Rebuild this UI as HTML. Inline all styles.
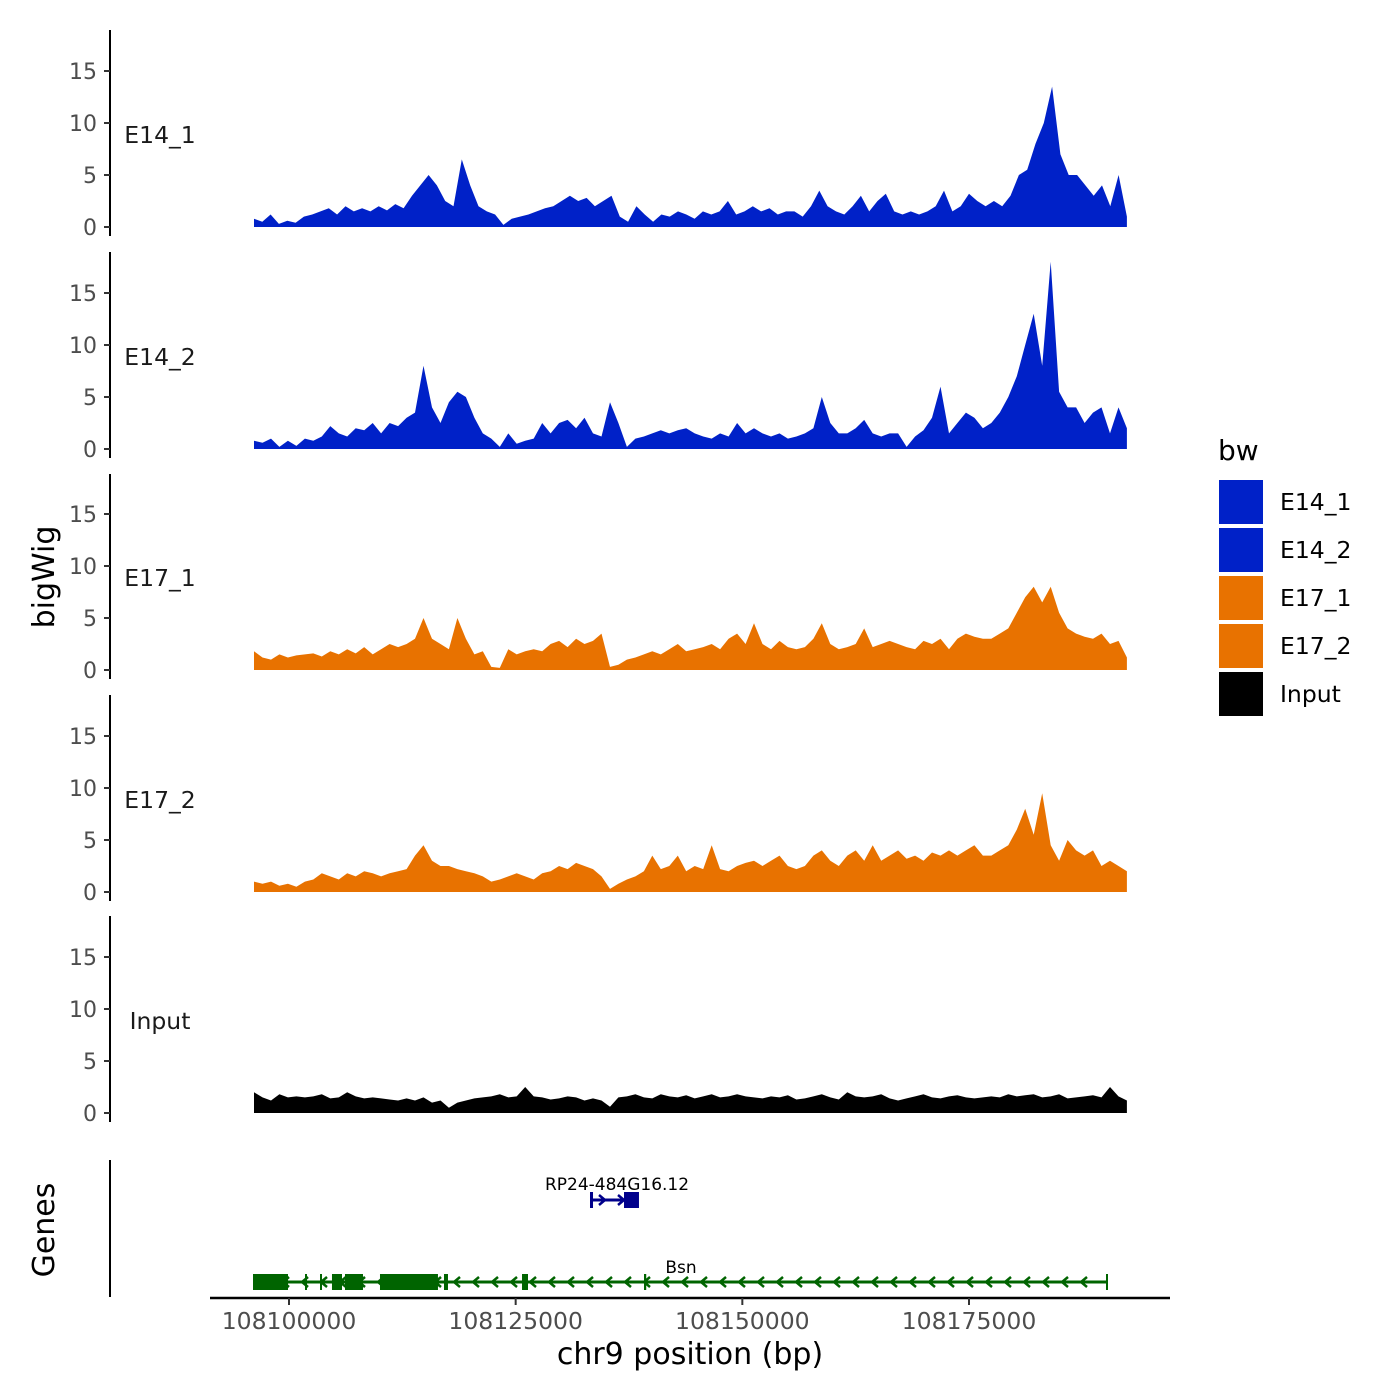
<!DOCTYPE html>
<html><head><meta charset="utf-8"><style>
body{margin:0;background:#fff}
svg{display:block;font-family:"DejaVu Sans","Liberation Sans",sans-serif}
</style></head><body>
<svg id="chart" width="1400" height="1400" viewBox="0 0 1400 1400"></svg>
<script>
const trackNames=["E14_1","E14_2","E17_1","E17_2","Input"];
const trackColors=["#0021C8","#0021C8","#E87200","#E87200","#000000"];
const yTicks=[0,5,10,15];
const xTicks=[108100000,108125000,108150000,108175000];
const e14_1=[0.8,0.5,1.2,0.3,0.6,0.4,1,1.2,1.5,1.8,1.2,2,1.5,1.8,1.5,2,1.6,2.2,1.8,3,4,5,4,2.5,2,6.5,4,2,1.5,1.2,0.2,0.8,1,1.2,1.5,1.8,2,2.5,3,2.5,2.8,2,2.5,3,1,0.5,2,1.2,0.5,1.2,1,1.5,1.2,0.8,1.5,1.2,1.5,2.5,1.2,1.5,2,1.5,1.8,1.2,1.5,1.5,1,2,3.5,2,1.5,1.2,2,3,1.5,2.5,3.2,1.5,1.2,1.5,1.2,1.5,2,3.5,1.5,2,3.2,2.5,2,2.5,2,3,5,5.5,8,10,13.5,7,5,5,4,3,4,2,5,1];
const e14_2=[0.8,0.6,1,0.2,0.8,0.3,1,0.8,1.2,2.2,1.5,1.2,2,1.8,2.5,1.5,2.5,2.2,3,3.5,8,4,2.5,4.5,5.5,5,3,1.5,1,0.2,1.5,0.5,0.8,1,2.5,1.5,2.5,2.8,2,3,1.5,1.2,4.5,2.5,0.2,1,1.2,1.5,1.8,1.5,1.8,2,1.5,1.2,1,1.5,1.2,2.5,1.5,2,1.5,1.2,1.5,1,1.2,1.5,2,5,2.5,1.5,1.5,2,2.8,1.5,1.2,1.5,1.5,0.2,1.2,1.8,3,6,1.5,2.5,3.5,3,2,2.5,3.5,5,7,10,13,8,18,5.5,4,4,2.5,3.5,4,1.5,4,2];
const e17_1=[1.8,1.2,1,1.5,1.2,1.4,1.5,1.6,1.3,1.8,1.5,2,1.6,2.2,1.5,2,2.5,2.2,2.5,3,5,3,2.5,2,5,3,1.5,1.8,0.3,0.2,2,1.5,1.8,2,1.8,2.5,2.8,2.2,3,2.5,2.8,3.5,0.3,0.5,1,1.2,1.5,1.8,1.5,2,2.5,1.8,2,2.2,2.5,2,3,3.5,2.5,4.5,2.5,2,2.8,2.2,2,2.2,3,4.5,2.5,2,2.2,2.5,4,2.2,2.5,2.8,2.5,2.2,2,2.8,2.5,3,2,3,3.5,3.2,3,3,3.5,4,5.5,7,8,6.5,8,5.5,4,3.5,3.2,3,3.5,2.5,2.8,1.2];
const e17_2=[1,0.8,1,0.6,0.8,0.5,1,1.2,1.8,1.5,1.2,1.8,1.5,2,1.8,1.5,1.8,2,2.2,3.5,4.5,3,2.5,2.5,2.2,2,1.8,1.5,1,1.2,1.5,1.8,1.5,1.2,1.8,2,2.5,2.2,2.8,2.5,2.2,1.5,0.3,0.8,1.2,1.5,2,3.5,2.2,2.5,3.5,2,2.5,2.2,4.5,2.2,2,2.5,2.8,3,2.5,3,3.5,2.5,2.2,2.5,3.5,4,3,2.5,3.5,4,3,4.5,3,3.5,4,3.2,3.5,3,3.8,3.5,4,3.5,4,4.5,3.5,3.5,4,4.5,6,8,5.5,9.5,4.5,3,5,4,3.5,4,2.5,3,2.5,2];
const input=[2,1.5,1.2,1.8,1.5,1.6,1.5,1.6,1.8,1.4,1.5,2,1.6,1.4,1.5,1.4,1.3,1.2,1.4,1.2,1.5,1,1.2,0.5,1,1.2,1.4,1.5,1.6,1.8,1.5,1.6,2.5,1.6,1.5,1.3,1.4,1.6,1.5,1.2,1.4,1.2,0.6,1.5,1.6,1.8,1.5,1.4,1.8,1.6,1.5,1.7,1.4,1.6,1.8,1.5,1.6,1.8,1.6,1.5,1.4,1.6,1.5,1.7,1.3,1.4,1.6,1.8,1.5,1.3,2,1.6,1.5,1.6,1.8,1.4,1.2,1.4,1.6,1.8,1.5,1.4,1.6,1.7,1.5,1.4,1.5,1.6,1.5,1.8,1.6,1.7,1.8,1.5,1.6,1.8,1.4,1.5,1.6,1.7,1.5,2.5,1.6,1.2];
const trackData=[e14_1,e14_2,e17_1,e17_2,input];
const dataStart=108096140, dataEnd=108192420;
const bsnExons=[[108096140,108099890],[108101765,108101900],[108103420,108103600],[108104740,108105845],[108106175,108108160],[108110035,108116430],[108117095,108117535],[108125700,108126360],[108139155,108139400]];
const bsnSpan=[108096140,108190220];
const rpExons=[[108133310,108133450],[108136950,108138490]];
const rpSpan=[108133310,108138490];

const NS="http://www.w3.org/2000/svg";
const svg=document.getElementById('chart');
function el(t,a,p){const e=document.createElementNS(NS,t);for(const k in a)e.setAttribute(k,a[k]);(p||svg).appendChild(e);return e;}
const xs=bp=>289+(bp-108100000)*0.00906667;
const panelBase=[227,449,670,892,1113];
const ys=(v,i)=>panelBase[i]-v*10.4;
const axTop=[30,252,474,695,916];

trackNames.forEach((name,i)=>{
  const g=el('g',{});
  
  
  const ax=el('line',{x1:110,x2:110,y1:axTop[i],y2:panelBase[i]+9,stroke:'#000','stroke-width':2},g);
  
  
  yTicks.forEach(t=>{
    const y=ys(t,i);
    el('line',{x1:104,x2:110,y1:y,y2:y,stroke:'#333','stroke-width':2},g);
    const tx=el('text',{x:97,y:y+8,'text-anchor':'end','font-size':22,fill:'#4d4d4d'},g);
    tx.textContent=t;
    
    
  });
  const lb=el('text',{x:160,y:panelBase[i]-84,'text-anchor':'middle','font-size':23.5,fill:'#1a1a1a'},g);
  lb.textContent=name;
  
  
  const d=trackData[i], n=d.length;
  let pts=[[xs(dataStart),panelBase[i]]];
  d.forEach((v,j)=>{const bp=dataStart+(dataEnd-dataStart)*j/(n-1);pts.push([xs(bp),ys(v,i)]);});
  pts.push([xs(dataEnd),panelBase[i]]);
  const area=el('polygon',{points:pts.map(p=>p[0].toFixed(1)+','+p[1].toFixed(1)).join(' '),fill:trackColors[i]},g);
  
  
});

const yt=el('text',{x:0,y:0,transform:'translate(54,577) rotate(-90)','text-anchor':'middle','font-size':30,fill:'#000'});
yt.textContent='bigWig';



const gg=el('g',{});


el('line',{x1:110,x2:110,y1:1160,y2:1297,stroke:'#000','stroke-width':2},gg);
const gt=el('text',{x:0,y:0,transform:'translate(54,1230) rotate(-90)','text-anchor':'middle','font-size':30,fill:'#000'},gg);
gt.textContent='Genes';



function drawGene(span,exons,y,color,dir,name,lx,ly){
  const g=el('g',{},gg);
  
  
  el('line',{x1:xs(span[0]),x2:xs(span[1]),y1:y,y2:y,stroke:color,'stroke-width':3},g);
  const x0=xs(span[0]),x1=xs(span[1]);
  for(let x=x0+12;x<x1-6;x+=19){
    const p=dir<0?`M${x+4},${y-5} L${x-2},${y} L${x+4},${y+5}`:`M${x-4},${y-5} L${x+2},${y} L${x-4},${y+5}`;
    el('path',{d:p,stroke:color,'stroke-width':2.5,fill:'none'},g);
  }
  el('line',{x1:x0,x2:x0,y1:y-8,y2:y+8,stroke:color,'stroke-width':2},g);
  el('line',{x1:x1,x2:x1,y1:y-8,y2:y+8,stroke:color,'stroke-width':2},g);
  exons.forEach(e=>{
    const w=Math.max(2,xs(e[1])-xs(e[0]));
    const r=el('rect',{x:xs(e[0]),y:y-8,width:w,height:16,fill:color},g);
    
    
  });
  const t=el('text',{x:lx,y:ly,'text-anchor':'middle','font-size':17,fill:'#000'},g);
  t.textContent=name;
  
  
}
drawGene(bsnSpan,bsnExons,1282,'#006400',-1,'Bsn',681,1273);
drawGene(rpSpan,rpExons,1200,'#00008B',1,'RP24-484G16.12',617,1190);

const xa=el('line',{x1:210,x2:1170,y1:1298,y2:1298,stroke:'#000','stroke-width':2.5});


xTicks.forEach(t=>{
  el('line',{x1:xs(t),x2:xs(t),y1:1298,y2:1305,stroke:'#333','stroke-width':2});
  const tx=el('text',{x:xs(t),y:1329,'text-anchor':'middle','font-size':23.5,fill:'#4d4d4d'});
  tx.textContent=t;
  
  
});
const xt=el('text',{x:690,y:1364,'text-anchor':'middle','font-size':30,fill:'#000'});
xt.textContent='chr9 position (bp)';



const lg=el('g',{});


const lt=el('text',{x:1218,y:460,'font-size':28,fill:'#000'},lg);
lt.textContent='bw';


trackNames.forEach((n,i)=>{
  const y=480+i*48;
  const e=el('g',{},lg);
  
  
  el('rect',{x:1219,y:y,width:44,height:44,fill:trackColors[i]},e);
  const t=el('text',{x:1280,y:y+30,'font-size':23.5,fill:'#000'},e);
  t.textContent=n;
});
</script>
</body></html>
